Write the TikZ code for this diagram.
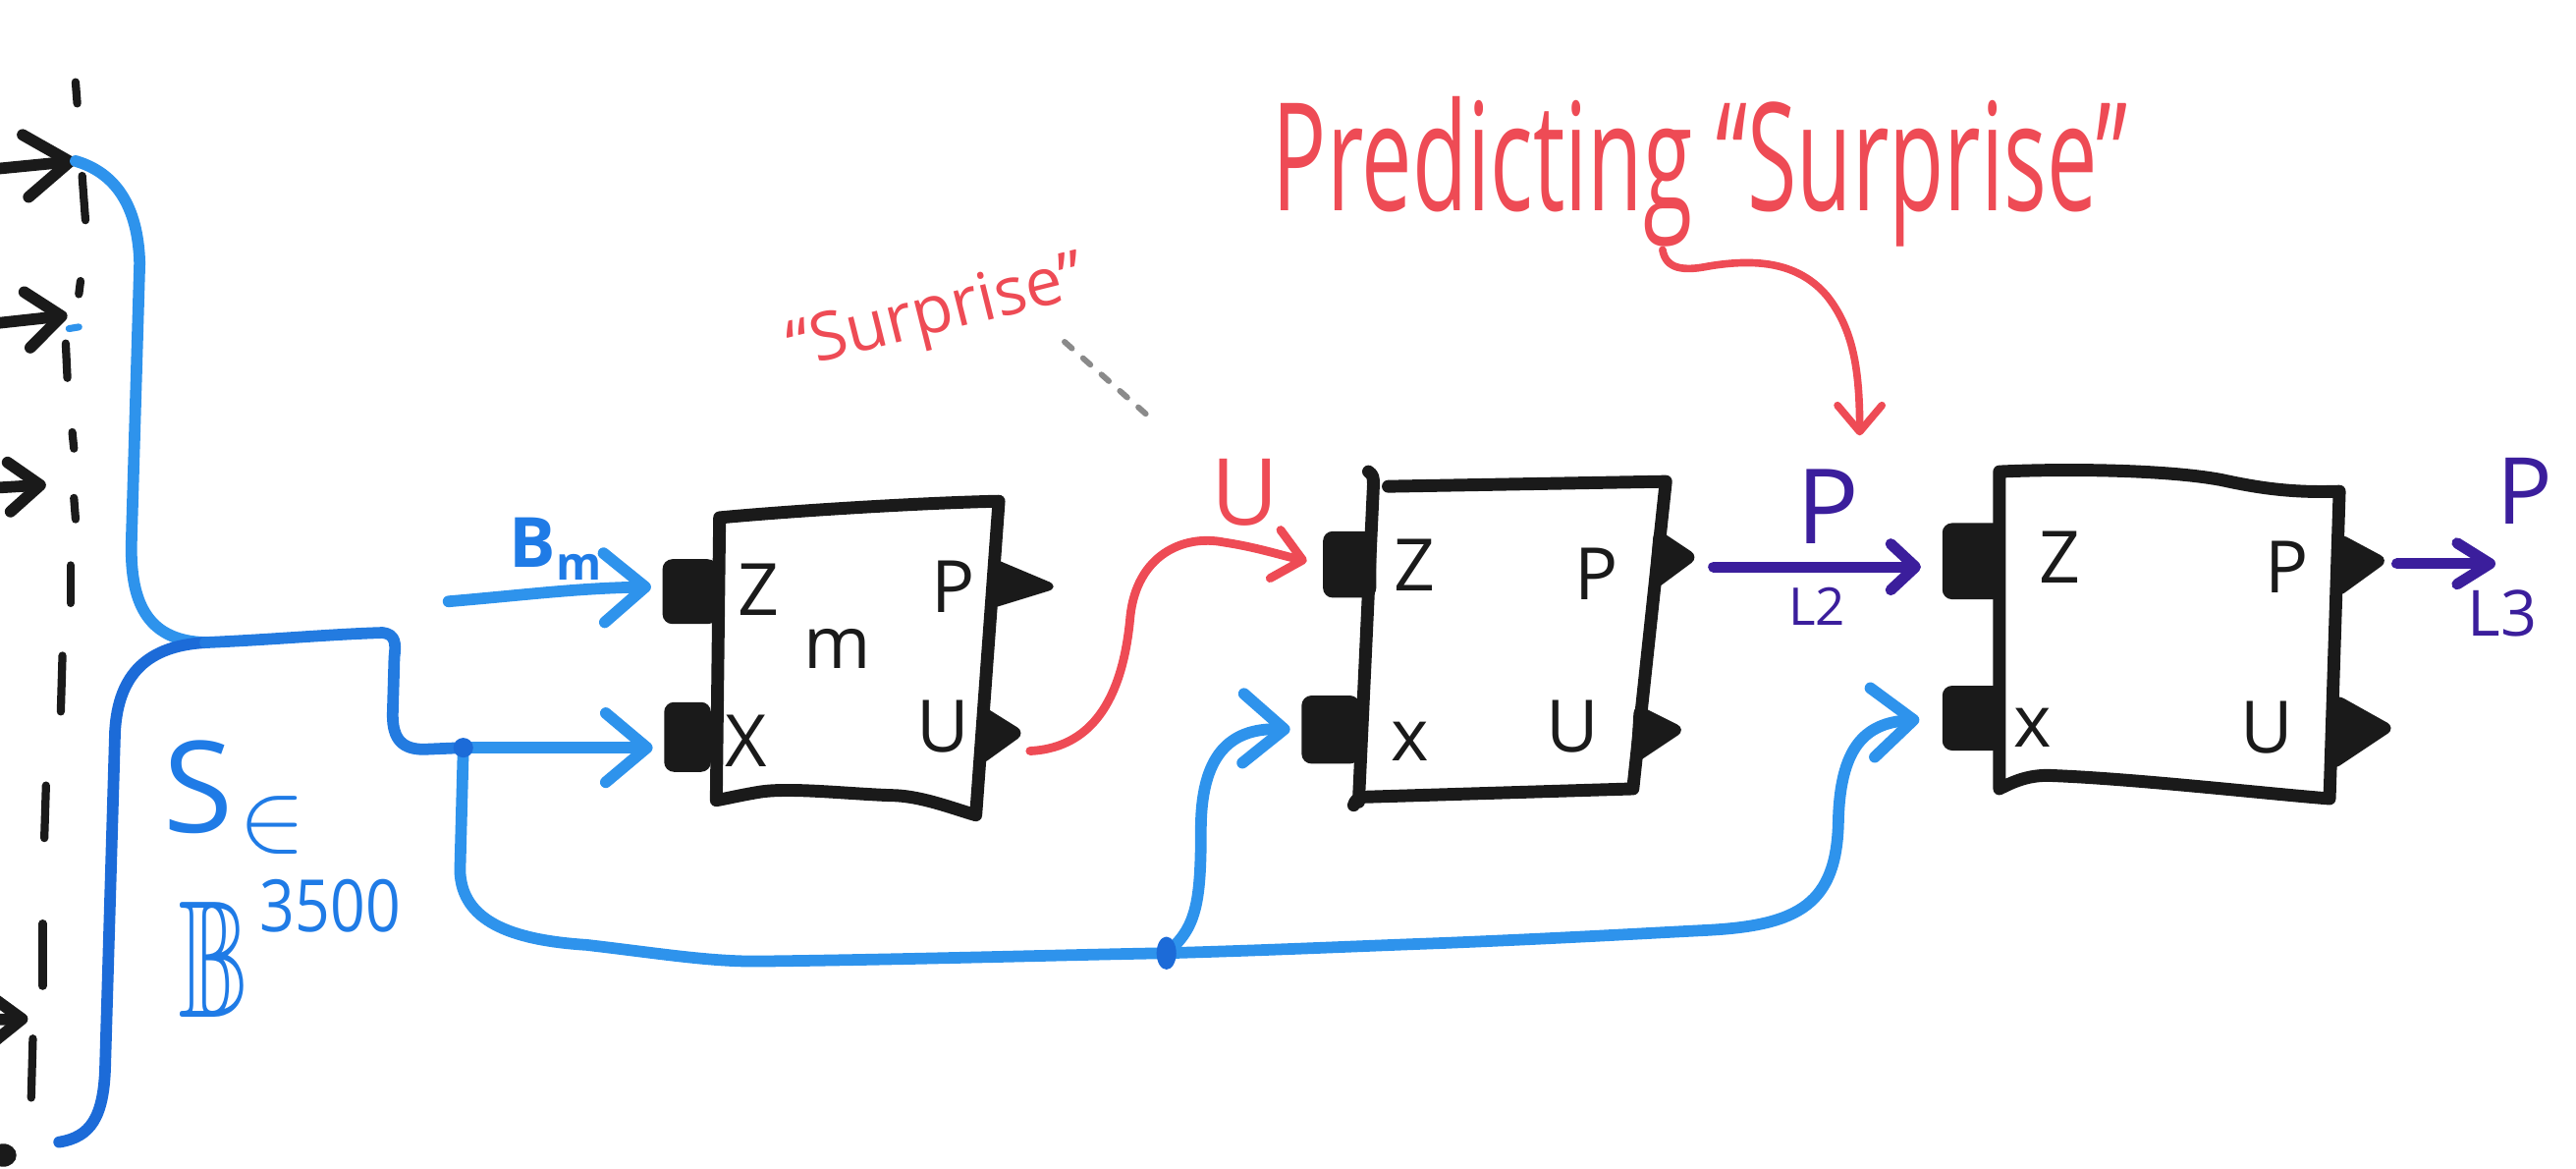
\documentclass[tikz,border=0pt]{standalone}
\usepackage{fontspec}
\usepackage{amssymb}
\usepackage{graphicx}
\setmainfont{Open Sans}
\usetikzlibrary{arrows.meta}
\definecolor{ink}{HTML}{1A1A1A}
\definecolor{blueL}{HTML}{2E93EC}
\definecolor{blueD}{HTML}{1C6BD8}
\definecolor{blueT}{HTML}{1F7BE6}
\definecolor{redM}{HTML}{EE4B55}
\definecolor{purp}{HTML}{3B1E9C}
\definecolor{dotgray}{HTML}{8A8A8A}
\tikzset{
  marker/.style={line width=2pt, line cap=round, line join=round},
  boxline/.style={marker, ink, line width=2.2pt},
  bluewire/.style={marker, blueL},
  bluearr/.style={bluewire, -{Straight Barb[length=0.25cm, width=0.42cm, round]}},
  blkarr/.style={marker, ink, line width=2pt},
  redarr/.style={marker, redM, line width=1.5pt, -{Straight Barb[length=0.17cm, width=0.3cm, round]}},
  purparr/.style={marker, purp, line width=1.9pt, -{Straight Barb[length=0.15cm, width=0.28cm, round]}},
  port/.style={fill=ink, draw=ink, rounded corners=1.5pt, inner sep=0pt},
  tri/.style={fill=ink, draw=ink, line width=0.8pt, rounded corners=1.2pt},
  boxlbl/.style={text=ink, inner sep=0pt, font=\fontsize{12.5}{14}\selectfont},
  redtxt/.style={text=redM, inner sep=0pt},
  purtxt/.style={text=purp, inner sep=0pt},
  bluetxt/.style={text=blueT, inner sep=0pt},
  tickmark/.style={ink, line width=1.4pt, line cap=round},
}
\begin{document}
\begin{tikzpicture}[x=0.01cm, y=-0.01cm]
\useasboundingbox (0,0) rectangle (1568,710.8);
\clip (0,0) rectangle (1568,710.8);

% ---------- left input arrows and dashed divider ----------
\coordinate (in1s) at (-5,103); \coordinate (in1) at (46,98);
\coordinate (in2s) at (-5,197); \coordinate (in2) at (41,192);
\coordinate (in3s) at (-5,297); \coordinate (in3) at (28,295);
\coordinate (in4s) at (-25,621); \coordinate (in4) at (17,620);
\draw[blkarr, -{Straight Barb[length=0.27cm, width=0.38cm, round]}] (in1s) -- (in1);
\draw[blkarr, -{Straight Barb[length=0.21cm, width=0.34cm, round]}] (in2s) -- (in2);
\draw[blkarr, -{Straight Barb[length=0.19cm, width=0.30cm, round]}] (in3s) -- (in3);
\draw[blkarr, -{Straight Barb[length=0.17cm, width=0.26cm, round]}] (in4s) -- (in4);
\fill[ink] (2,703) ellipse [x radius=0.08cm, y radius=0.07cm];
\foreach \xa/\ya/\xb/\yb in {46/50/47/63, 50/107/52/134, 49/171/48/179, 40/209/41/230,
  44/263/45/273, 45/303/46/316, 43/344/43/367, 38/399/37/433, 28/478/27/510,
  26/562/26/600, 20/632/19/668}
  \draw[tickmark] (\xa,\ya) -- (\xb,\yb);
\draw[blueL, line width=1.2pt, line cap=round] (42,200) -- (48,199);

% ---------- blue bracket ----------
\coordinate (jb) at (125,391);
\coordinate (j1) at (282,455);
\coordinate (j2) at (710,580);
\draw[bluewire] (in1) .. controls (70,105) and (84,125) .. (85,160) -- (80,330)
  .. controls (79,370) and (92,390) .. (jb);
\draw[bluewire, blueD] (jb) .. controls (90,393) and (72,410) .. (70,445) -- (64,650)
  .. controls (63,680) and (55,692) .. (36,695);
\draw[bluewire, blueD!60!blueL] (jb) .. controls (170,389) and (200,386) .. (233,385)
  .. controls (241,386) and (241,392) .. (240,400) -- (239,435)
  .. controls (239,450) and (245,456) .. (258,456) -- (j1);

% ---------- blocks ----------
% block 1
\draw[boxline] (438,315) .. controls (480,311) and (560,306) .. (608,305) -- (594,496)
  .. controls (580,492) and (560,484) .. (542,484) .. controls (515,483) and (480,479) .. (462,482)
  .. controls (450,484) and (442,486) .. (436,487) -- cycle;
% block 2
\draw[boxline] (833,287) .. controls (836,289) and (836,291) .. (836,295) -- (827,488);
\draw[boxline] (845,296) -- (1014,293) -- (994,480) -- (830,485) .. controls (826,486) and (825,487) .. (824,490);
% block 3
\draw[boxline] (1217,287) .. controls (1260,285) and (1320,286) .. (1352,292)
  .. controls (1375,297) and (1395,300) .. (1424,299) -- (1418,486)
  .. controls (1380,483) and (1300,474) .. (1250,472) .. controls (1235,471) and (1225,476) .. (1217,480) -- cycle;

% input ports
\node[port, minimum width=0.32cm, minimum height=0.38cm] (b1z) at (420,360) {};
\node[port, minimum width=0.27cm, minimum height=0.41cm] (b1x) at (418.5,448.5) {};
\node[port, minimum width=0.31cm, minimum height=0.39cm] (b2z) at (821.5,343.5) {};
\node[port, minimum width=0.34cm, minimum height=0.40cm] (b2x) at (810,444) {};
\node[port, minimum width=0.36cm, minimum height=0.45cm] (b3z) at (1201,341.5) {};
\node[port, minimum width=0.36cm, minimum height=0.38cm] (b3x) at (1201,437) {};

% output ports (triangles)
\coordinate (b1p) at (642,357); \coordinate (b1u) at (622,446);
\coordinate (b2p) at (1032,339); \coordinate (b2u) at (1024,444);
\coordinate (b3p) at (1452,341); \coordinate (b3u) at (1456,443);
\path[tri] (604,341) -- (b1p) -- (603,369) -- cycle;
\path[tri] (598,431) -- (b1u) -- (597,464) -- cycle;
\path[tri] (1008,323) -- (b2p) -- (1005,359) -- cycle;
\path[tri] (996,430) -- (b2u) -- (994,464) -- cycle;
\path[tri] (1424,326) -- (b3p) -- (1423,362) -- cycle;
\path[tri] (1422,424) -- (b3u) -- (1420,467) -- cycle;

% block labels
\node[boxlbl] (b1zl) at (462,359) {Z};
\node[boxlbl] (b1pl) at (580,357) {P};
\node[boxlbl] (b1m) at (510,395) {m};
\node[boxlbl] (b1xl) at (454,451) {X};
\node[boxlbl] (b1ul) at (574,442) {U};
\node[boxlbl] (b2zl) at (861,344) {Z};
\node[boxlbl] (b2pl) at (972,349) {P};
\node[boxlbl] (b2xl) at (858,451) {x};
\node[boxlbl] (b2ul) at (957,442) {U};
\node[boxlbl] (b3zl) at (1254,339) {Z};
\node[boxlbl] (b3pl) at (1392,345) {P};
\node[boxlbl] (b3xl) at (1237,443) {x};
\node[boxlbl] (b3ul) at (1380,443) {U};

% ---------- blue connectors ----------
\coordinate (bms) at (273,366);
\draw[bluearr, shorten >=0.07cm] (bms) .. controls (320,362) and (350,358) .. (b1z.west |- 0,357);
\draw[bluearr, shorten >=0.07cm] (j1) -- (j1 -| b1x.west);
\draw[bluewire] (j1) -- (280,530) .. controls (281,560) and (310,572) .. (357,575)
  .. controls (400,580) and (430,585) .. (460,585) .. controls (550,584) and (650,581) .. (j2);
\draw[bluearr, shorten >=0.14cm] (j2) .. controls (780,578) and (820,576) .. (875,574)
  .. controls (950,571) and (1000,568) .. (1040,566)
  .. controls (1095,563) and (1118,550) .. (1119,500)
  .. controls (1120,455) and (1135,440) .. (b3x.west);
\draw[bluearr, shorten >=0.07cm] (j2) .. controls (728,565) and (731,550) .. (731,505)
  .. controls (731,460) and (748,443) .. (b2x.west);
\fill[blueD] (j1) circle [radius=0.06cm];
\fill[blueD] (j2) ellipse [x radius=0.06cm, y radius=0.1cm];

% ---------- red connector (surprise) ----------
\coordinate (b1uo) at (627,457);
\draw[redarr, shorten >=0.1cm] (b1uo) .. controls (668,455) and (684,420) .. (688,375)
  .. controls (692,338) and (720,325) .. (745,330) .. controls (765,333) and (780,338) .. (b2z.west);

% ---------- purple connectors ----------
\coordinate (b2po) at (1043,345);
\draw[purparr, shorten >=0.13cm] (b2po) -- (b2po -| b3z.west);
\coordinate (b3po) at (1459,343);
\coordinate (outP) at (1519,343);
\draw[purparr, -{Straight Barb[length=0.2cm, width=0.25cm, round]}] (b3po) -- (outP);

% ---------- labels ----------
\node[bluetxt, font=\fontsize{12}{14}\selectfont\bfseries] (bm) at (338,334)
  {B\raisebox{-0.35ex}{\fontsize{8}{9}\selectfont m}};
\node[bluetxt, font=\fontsize{22}{24}\selectfont] (slbl) at (121,479) {S};
\node[bluetxt] (inlbl) at (166,502) {\fontsize{16}{18}\selectfont$\in$};
\node[bluetxt] (bblbl) at (130,584) {\scalebox{0.62}[1]{\fontsize{29}{31}\selectfont$\mathbb{B}$}};
\node[bluetxt, font=\fontsize{12.5}{14}\selectfont] (explbl) at (201,551) {\scalebox{0.85}[1]{3500}};

\node[redtxt, font=\fontsize{16}{18}\selectfont] (ulbl) at (758,300) {U};
\node[purtxt, font=\fontsize{18}{20}\selectfont] (pl2) at (1113,308) {P};
\node[purtxt, font=\fontsize{9}{10}\selectfont] (l2) at (1106,369) {L2};
\node[purtxt, font=\fontsize{16}{18}\selectfont] (pl3) at (1537,299) {P};
\node[purtxt, font=\fontsize{11}{12}\selectfont] (l3) at (1523,373) {L3};

\node[redtxt, font=\fontsize{26}{30}\selectfont, anchor=base] (pred) at (1035,128)
  {\scalebox{0.6}[1]{Predicting “Surprise”}};
\coordinate (predg) at (1012,152);
\coordinate (predtip) at (1132,265);
\draw[marker, redM, line width=1.3pt, -{Straight Barb[length=0.16cm, width=0.27cm, round]}]
  (predg) .. controls (1014,164) and (1025,165) .. (1040,162)
  .. controls (1070,157) and (1095,160) .. (1112,180)
  .. controls (1128,200) and (1132,225) .. (predtip);

\node[redtxt, font=\fontsize{11.5}{13}\selectfont, rotate=14, anchor=base] (surp) at (573,202) {“Surprise”};
\coordinate (dotA) at (648,208);
\coordinate (dotB) at (701,255);
\draw[dotgray, line width=1pt, line cap=round, dash pattern=on 0.06cm off 0.09cm] (dotA) -- (dotB);
\end{tikzpicture}
\end{document}
